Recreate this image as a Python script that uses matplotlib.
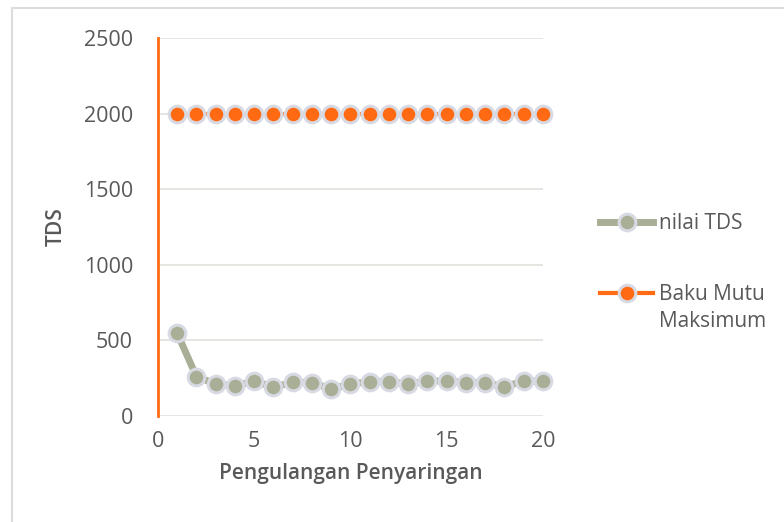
import matplotlib.pyplot as plt
from matplotlib.patches import Rectangle

plt.rcParams['font.family'] = ['Open Sans', 'DejaVu Sans']

# repetitions and measured TDS values
ulangan = list(range(1, 21))
nilai_tds = [547, 260, 212, 198, 231, 190, 223, 220, 178, 212,
             227, 227, 212, 231, 231, 220, 220, 194, 231, 231]
baku_mutu = [2000] * 20

text_col = '#595959'
grey_green = '#a9af96'
orange = '#ff6a13'
edge = '#d8dae3'

fig = plt.figure(figsize=(7.84, 5.22), dpi=100)
ax = fig.add_axes([0.2015, 0.2031, 0.4911, 0.7241])

ax.plot(ulangan, nilai_tds, color=grey_green, lw=5, marker='o', ms=12,
        mfc=grey_green, mec=edge, mew=2.2, label='nilai TDS', zorder=3,
        clip_on=False)
ax.plot(ulangan, baku_mutu, color=orange, lw=3, marker='o', ms=12,
        mfc=orange, mec=edge, mew=2.2, label='Baku Mutu', zorder=3,
        clip_on=False)

ax.set_xlim(0, 20)
ax.set_ylim(0, 2500)
ax.set_xticks([0, 5, 10, 15, 20])
ax.set_yticks(range(0, 2501, 500))
ax.grid(axis='y', color='#e3e3de', lw=1.3)
ax.set_axisbelow(True)
for s in ['top', 'right', 'bottom']:
    ax.spines[s].set_visible(False)
ax.spines['left'].set_color(orange)
ax.spines['left'].set_linewidth(2)
ax.tick_params(length=0, labelsize=15.5, colors=text_col, pad=11)
ax.tick_params(axis='y', pad=18)

ax.set_xlabel('Pengulangan Penyaringan', fontsize=15, color=text_col,
              fontweight='semibold', labelpad=8)
ax.set_ylabel('TDS', fontsize=15, color=text_col, fontweight='semibold',
              labelpad=12)

leg = fig.legend(loc='upper left', bbox_to_anchor=(0.742, 0.628),
                 frameon=False, fontsize=15, handlelength=2.5,
                 handletextpad=0.3, labelspacing=2.4, labelcolor=text_col)

# second line of the "Baku Mutu Maksimum" entry, placed under the legend label
fig.canvas.draw()
bb = leg.get_texts()[1].get_window_extent().transformed(fig.transFigure.inverted())
fig.text(bb.x0, bb.y0 - 0.012, 'Maksimum', fontsize=15, color=text_col,
         va='top', ha='left')

# light border around the whole chart area
fig.patches.append(Rectangle((0.0155, -0.01), 1.0, 0.995, transform=fig.transFigure,
                             fill=False, ec='#dcdcdc', lw=1.5))

fig.savefig('out.png', dpi=100)
